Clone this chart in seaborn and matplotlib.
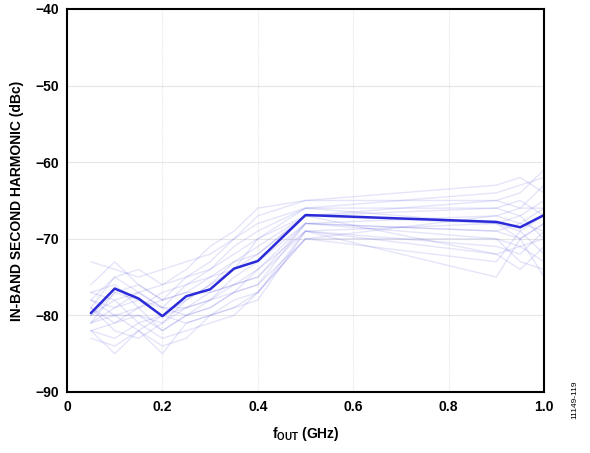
import numpy as np
import pandas as pd
import matplotlib
matplotlib.use('Agg')
import matplotlib.pyplot as plt
import seaborn as sns

# frequency points (GHz)
freq = [0.05, 0.10, 0.15, 0.20, 0.25, 0.30, 0.35, 0.40, 0.50, 0.90, 0.95, 1.00]

# typical (bold) trace, dBc
typical = [-79.7, -76.5, -77.8, -80.1, -77.5, -76.6, -73.9, -72.9, -66.9, -67.8, -68.5, -66.9]

# individual device traces (faint), dBc
traces = [
    [-73, -74, -75, -74, -73, -72, -70, -68, -66, -64, -63, -62],
    [-76, -73, -76, -78, -75, -73, -70, -67, -65, -65, -64, -61],
    [-78, -75, -74, -76, -74, -71, -69, -66, -65, -63, -62, -64],
    [-80, -77, -78, -80, -78, -76, -73, -71, -67, -66, -67, -65],
    [-81, -79, -77, -79, -79, -78, -75, -73, -68, -67, -66, -66],
    [-82, -81, -80, -82, -80, -79, -77, -74, -69, -68, -69, -67],
    [-79, -82, -83, -81, -79, -77, -76, -75, -68, -69, -70, -68],
    [-83, -84, -82, -85, -81, -80, -78, -77, -70, -70, -71, -70],
    [-78, -80, -82, -84, -83, -80, -79, -78, -69, -71, -72, -69],
    [-77, -76, -79, -78, -77, -75, -74, -72, -67, -72, -71, -73],
    [-80, -78, -81, -83, -82, -81, -80, -77, -70, -73, -69, -72],
    [-79, -81, -79, -77, -76, -74, -71, -69, -66, -68, -70, -75],
    [-81, -77, -76, -78, -77, -77, -76, -75, -69, -75, -70, -68],
    [-82, -83, -81, -80, -79, -78, -76, -74, -68, -70, -73, -74],
    [-78, -79, -78, -79, -80, -79, -77, -76, -70, -67, -68, -66],
    [-80, -80, -80, -81, -78, -76, -74, -70, -67, -65, -66, -63],
    [-77, -78, -77, -76, -75, -74, -72, -70, -66, -66, -65, -67],
    [-81, -80, -79, -82, -80, -78, -77, -76, -68, -69, -68, -69],
    [-79, -75, -77, -79, -76, -75, -73, -72, -67, -68, -67, -70],
    [-82, -85, -82, -80, -81, -80, -79, -77, -69, -72, -74, -71],
]

xticks = [0, 0.2, 0.4, 0.6, 0.8, 1.0]
xticklabels = ['0', '0.2', '0.4', '0.6', '0.8', '1.0']
yticks = [-90, -80, -70, -60, -50, -40]

sns.set_style('white')
plt.rcParams['font.family'] = ['Liberation Sans', 'DejaVu Sans']
plt.rcParams['font.weight'] = 'bold'
plt.rcParams['text.color'] = 'black'
plt.rcParams['axes.labelcolor'] = 'black'
plt.rcParams['xtick.color'] = 'black'
plt.rcParams['ytick.color'] = 'black'
plt.rcParams['mathtext.fontset'] = 'custom'
plt.rcParams['mathtext.rm'] = 'Liberation Sans:bold'
plt.rcParams['mathtext.bf'] = 'Liberation Sans:bold'

rows = []
for i, tr in enumerate(traces):
    for f, v in zip(freq, tr):
        rows.append({'trace': i, 'freq': f, 'h2': v})
df = pd.DataFrame(rows)
df_typ = pd.DataFrame({'freq': freq, 'h2': typical})

fig = plt.figure(figsize=(5.9, 4.53), dpi=100)
ax = fig.add_axes([0.1136, 0.1347, 0.8085, 0.8455])

blue = '#2a2ad8'
sns.lineplot(data=df, x='freq', y='h2', units='trace', estimator=None,
             color=blue, alpha=0.12, linewidth=1.0, ax=ax)
sns.lineplot(data=df_typ, x='freq', y='h2', color=blue, linewidth=1.8, ax=ax)

ax.set_xlim(0, 1.0)
ax.set_ylim(-90, -40)
ax.set_xticks(xticks)
ax.set_xticklabels(xticklabels)
ax.set_yticks(yticks)
ax.tick_params(axis='both', length=0, labelsize=10, pad=6, colors='black')
for lbl in ax.get_xticklabels() + ax.get_yticklabels():
    lbl.set_fontweight('bold')

for yv in [-80, -70, -60, -50]:
    ax.axhline(yv, color='#e6e6e6', linewidth=0.8, zorder=0)
for xv in [0.2, 0.4, 0.6, 0.8]:
    ax.axvline(xv, color='#e6e6e6', linewidth=0.8, linestyle=(0, (1, 1)), zorder=0)

for sp in ax.spines.values():
    sp.set_color('black')
    sp.set_linewidth(1.5)

ax.set_xlabel(r'f$_{\mathrm{OUT}}$ (GHz)', fontsize=10, fontweight='bold', labelpad=8)
ax.set_ylabel('IN-BAND SECOND HARMONIC (dBc)', fontsize=10, fontweight='bold', labelpad=8)

fig.text(0.975, 0.075, '11149-119', rotation=90, fontsize=6, fontweight='normal',
         ha='center', va='bottom')

fig.savefig('out.png', dpi=100)
